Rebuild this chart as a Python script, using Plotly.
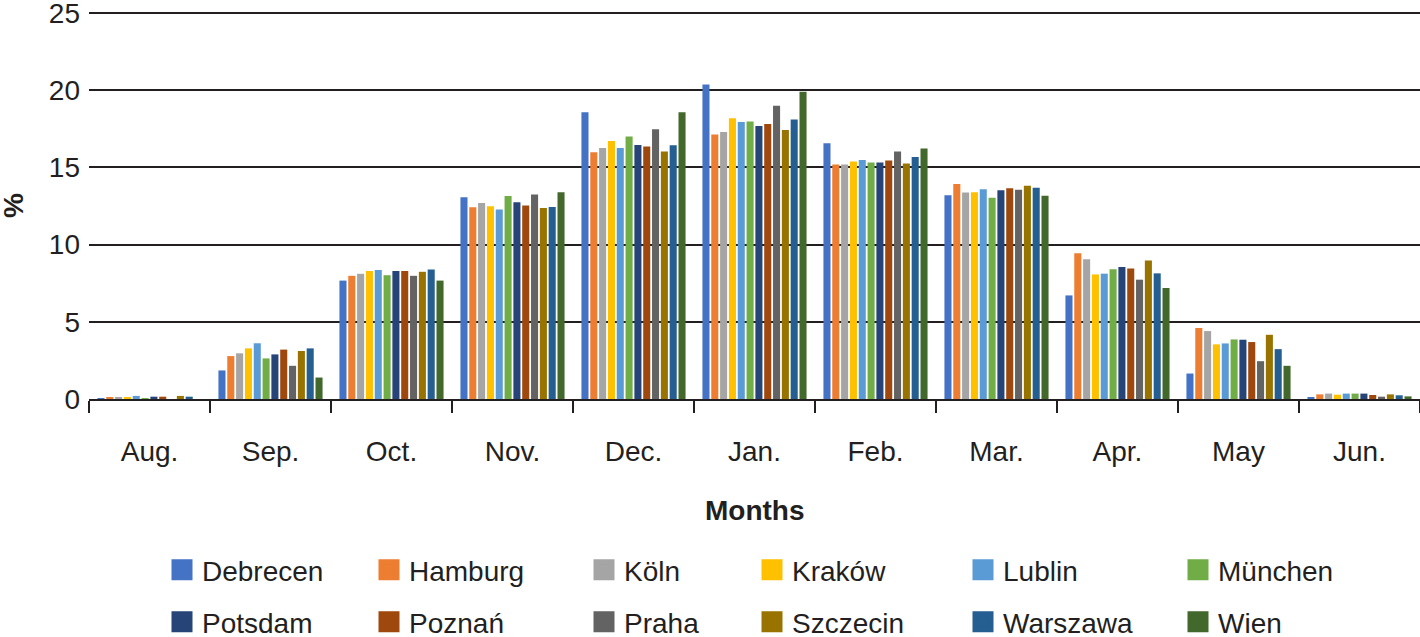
import plotly.graph_objects as go

months = ["Aug.", "Sep.", "Oct.", "Nov.", "Dec.", "Jan.", "Feb.", "Mar.", "Apr.", "May", "Jun."]

cities = ["Debrecen", "Hamburg", "Köln", "Kraków", "Lublin", "München",
          "Potsdam", "Poznań", "Praha", "Szczecin", "Warszawa", "Wien"]

colors = ["#4472C4", "#ED7D31", "#A5A5A5", "#FFC000", "#5B9BD5", "#70AD47",
          "#264478", "#9E480E", "#636363", "#997300", "#255E91", "#43682B"]

debrecen = [0.02, 1.85, 7.67, 13.07, 18.57, 20.37, 16.56, 13.20, 6.71, 1.65, 0.07]
hamburg  = [0.10, 2.78, 7.98, 12.42, 15.98, 17.13, 15.19, 13.92, 9.44, 4.60, 0.30]
koln     = [0.10, 2.96, 8.11, 12.70, 16.26, 17.30, 15.19, 13.38, 9.05, 4.40, 0.35]
krakow   = [0.12, 3.28, 8.30, 12.48, 16.72, 18.19, 15.39, 13.40, 8.07, 3.54, 0.28]
lublin   = [0.20, 3.61, 8.35, 12.27, 16.26, 17.95, 15.48, 13.59, 8.12, 3.60, 0.35]
munchen  = [0.05, 2.63, 8.02, 13.15, 17.00, 17.97, 15.32, 13.03, 8.40, 3.86, 0.35]
potsdam  = [0.15, 2.89, 8.30, 12.74, 16.46, 17.69, 15.32, 13.53, 8.55, 3.84, 0.35]
poznan   = [0.15, 3.20, 8.30, 12.53, 16.35, 17.82, 15.45, 13.66, 8.46, 3.69, 0.26]
praha    = [0.00, 2.15, 7.98, 13.24, 17.47, 19.00, 16.04, 13.55, 7.73, 2.45, 0.15]
szczecin = [0.20, 3.11, 8.24, 12.38, 16.03, 17.43, 15.26, 13.81, 8.98, 4.16, 0.30]
warszawa = [0.15, 3.28, 8.39, 12.44, 16.44, 18.10, 15.67, 13.68, 8.14, 3.23, 0.24]
wien     = [0.00, 1.39, 7.67, 13.39, 18.57, 19.91, 16.23, 13.16, 7.19, 2.15, 0.17]

series = [debrecen, hamburg, koln, krakow, lublin, munchen,
          potsdam, poznan, praha, szczecin, warszawa, wien]

yticks = [0, 5, 10, 15, 20, 25]

FONT = "Liberation Sans, Arial, sans-serif"
FS = 28
TXT = "#231F20"
W, H = 1420, 637
PL, PT, PB = 89, 10, 399  # plot area left, top, bottom (px)
PW, PH = W - PL, PB - PT
YMAX = 25.2

fig = go.Figure()
for name, vals, col in zip(cities, series, colors):
    fig.add_trace(go.Bar(name=name, x=months, y=vals, marker_color=col,
                         marker_line_width=0, showlegend=False))

# legend entries (one legend per entry, placed in a 6x2 grid)
col_centers = [183, 390, 605, 773, 984, 1199]
row_centers = [570, 622]
for i, (name, col) in enumerate(zip(cities, colors)):
    r, c = divmod(i, 6)
    key = "legend" if i == 0 else f"legend{i+1}"
    fig.add_trace(go.Scatter(x=[None], y=[None], mode="markers", name=name,
                             marker=dict(symbol="square", size=16, color=col,
                                         line=dict(color=col, width=5)),
                             legend=key, showlegend=True))
    fig.update_layout(**{key: dict(
        xref="container", yref="container",
        x=(col_centers[c] - 21) / W, xanchor="left",
        y=1 - row_centers[r] / H, yanchor="middle",
        bgcolor="rgba(0,0,0,0)", borderwidth=0,
        font=dict(family=FONT, size=FS, color=TXT),
        itemclick=False, itemdoubleclick=False,
    )})

fig.update_layout(
    width=W, height=H,
    margin=dict(l=PL, r=0, t=PT, b=H - PB, autoexpand=False),
    paper_bgcolor="white", plot_bgcolor="white",
    barmode="group", bargap=0.125, bargroupgap=0.2,
    font=dict(family=FONT, size=FS, color=TXT),
    xaxis=dict(
        type="category", range=[-0.5, len(months) - 0.5],
        tickson="boundaries", ticks="outside",
        ticklen=12, tickwidth=2, tickcolor=TXT,
        showline=True, linecolor=TXT, linewidth=2,
        showgrid=False, ticklabelstandoff=26,
        tickfont=dict(family=FONT, size=FS, color=TXT),
        automargin=False, fixedrange=True,
    ),
    yaxis=dict(
        range=[0, YMAX], tickvals=yticks, ticktext=[str(v) for v in yticks],
        showgrid=True, gridcolor=TXT, gridwidth=2,
        zeroline=False, showline=False, ticks="",
        ticklabelstandoff=8, ticklabeloverflow="allow",
        tickfont=dict(family=FONT, size=FS, color=TXT),
        automargin=False, fixedrange=True,
    ),
    annotations=[
        dict(text="<b>Months</b>", xref="paper", yref="paper",
             x=0.5, y=(PB - 510) / PH, xanchor="center", yanchor="middle",
             showarrow=False, font=dict(family=FONT, size=FS, color=TXT)),
        dict(text="<b>%</b>", xref="paper", yref="paper",
             x=(13 - PL) / PW, y=(PB - 206) / PH, xanchor="center", yanchor="middle",
             textangle=-90, showarrow=False,
             font=dict(family=FONT, size=FS, color=TXT)),
    ],
)

fig.write_html("out.html", config={"displayModeBar": False},
               post_script="document.body.style.margin='0';")
